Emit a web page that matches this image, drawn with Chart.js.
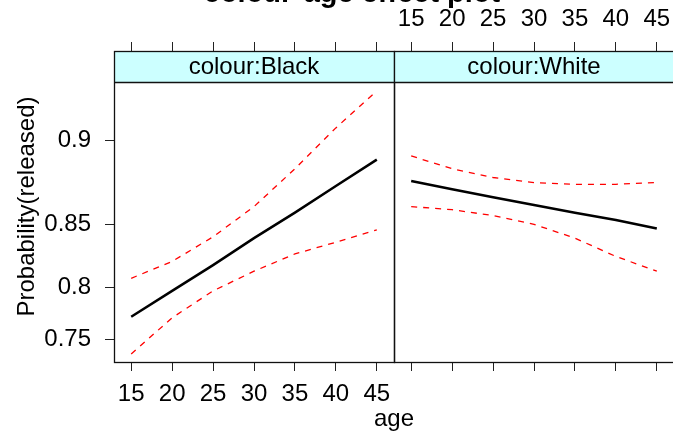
<!DOCTYPE html>
<html>
<head>
<meta charset="utf-8">
<script src="https://cdn.jsdelivr.net/npm/chart.js@4.4.1/dist/chart.umd.min.js"></script>
<style>
  html, body { margin: 0; padding: 0; background: #fff; }
  #wrap { position: relative; width: 673px; height: 433px; overflow: hidden; background: #fff; }
  #wrap canvas { position: absolute; top: 0; left: 0; }
</style>
</head>
<body>
<div id="wrap">
  <canvas id="black" width="673" height="433" style="width:673px;height:433px"></canvas>
  <canvas id="white" width="700" height="433" style="width:700px;height:433px"></canvas>
</div>
<script>
// effect of age, by colour (probability of release)
const ages = [15, 20, 25, 30, 35, 40, 45];

const blackFit   = [0.773, 0.797, 0.819, 0.840, 0.858, 0.875, 0.890];
const blackLower = [0.735, 0.772, 0.797, 0.814, 0.828, 0.837, 0.846];
const blackUpper = [0.808, 0.822, 0.841, 0.862, 0.885, 0.906, 0.922];

const whiteFit   = [0.878, 0.873, 0.868, 0.863, 0.858, 0.853, 0.847];
const whiteLower = [0.862, 0.860, 0.856, 0.850, 0.840, 0.826, 0.814];
const whiteUpper = [0.892, 0.885, 0.880, 0.877, 0.876, 0.876, 0.877];

const ageTicks = [15, 20, 25, 30, 35, 40, 45];
const probTicks = [0.75, 0.8, 0.85, 0.9];
const probTickLabels = ["0.75", "0.8", "0.85", "0.9"];

// axis limits (upper limit reaches to the top of the strip)
const ageRange = [12.9, 47.1];
const probRange = [0.7263, 0.9364];

const FONT = "'Liberation Sans', Arial, Helvetica, sans-serif";
const STRIP_H = 31;

Chart.defaults.font.family = FONT;
Chart.defaults.font.size = 24;
Chart.defaults.color = "#000";
Chart.defaults.animation = false;

const logit = p => Math.log(p / (1 - p));

const toPoints = values => ages.map((a, i) => ({ x: a, y: logit(values[i]) }));

// strip, frame and page texts
const panelPlugin = {
    id: "panel",
    beforeDatasetsDraw(chart, args, opts) {
        const { ctx, chartArea: a } = chart;
        ctx.save();
        ctx.fillStyle = "#CCFFFF";
        ctx.fillRect(a.left, a.top, a.right - a.left, STRIP_H);
        ctx.fillStyle = "#000";
        ctx.font = "24px " + FONT;
        ctx.textAlign = "center";
        ctx.textBaseline = "middle";
        ctx.fillText(opts.strip, (a.left + a.right) / 2, a.top + STRIP_H / 2 + 1);
        ctx.restore();
    },
    afterDraw(chart, args, opts) {
        const { ctx, chartArea: a } = chart;
        ctx.save();
        ctx.strokeStyle = "#111";
        ctx.lineWidth = 1.3;
        ctx.strokeRect(a.left + 0.5, a.top + 0.5, a.right - a.left, a.bottom - a.top);
        ctx.beginPath();
        ctx.moveTo(a.left, a.top + STRIP_H + 0.5);
        ctx.lineTo(a.right, a.top + STRIP_H + 0.5);
        ctx.stroke();
        if (opts.pageText) {
            ctx.fillStyle = "#000";
            ctx.textAlign = "center";
            ctx.textBaseline = "alphabetic";
            ctx.font = "bold 29px " + FONT;
            ctx.fillText("colour*age effect plot", 352, 2);
            ctx.font = "24px " + FONT;
            ctx.fillText("age", a.right, 426);
        }
        ctx.restore();
    }
};

function xAxis(position, showLabels, height) {
    return {
        type: "linear",
        position,
        min: ageRange[0],
        max: ageRange[1],
        afterBuildTicks: s => { s.ticks = ageTicks.map(v => ({ value: v })); },
        afterFit: s => { s.height = height; },
        grid: { drawOnChartArea: false, drawTicks: true, tickLength: 9, color: "#222" },
        border: { display: false },
        ticks: {
            display: showLabels,
            padding: position === "top" ? 8 : 9,
            color: "#000",
            maxRotation: 0,
            autoSkip: false,
            callback: v => String(v)
        }
    };
}

function createPanel(canvas, cfg) {

    const datasets = [
        { data: toPoints(cfg.fit), borderColor: "#000", borderWidth: 2.5 },
        { data: toPoints(cfg.lower), borderColor: "#FF0000", borderWidth: 1.3, borderDash: [6, 6] },
        { data: toPoints(cfg.upper), borderColor: "#FF0000", borderWidth: 1.3, borderDash: [6, 6] }
    ].map(d => ({ ...d, pointRadius: 0, tension: 0, fill: false }));

    return new Chart(canvas, {
        type: "line",
        data: { datasets },
        plugins: [panelPlugin],
        options: {
            responsive: false,
            layout: { padding: cfg.padding },
            plugins: {
                legend: { display: false },
                tooltip: { enabled: false },
                panel: { strip: cfg.strip, pageText: cfg.pageText }
            },
            scales: {
                x: xAxis("bottom", cfg.bottomLabels, 71),
                xTop: xAxis("top", cfg.topLabels, 51),
                y: {
                    type: "linear",
                    position: "left",
                    display: cfg.showY,
                    min: logit(probRange[0]),
                    max: logit(probRange[1]),
                    afterBuildTicks: s => { s.ticks = probTicks.map(p => ({ value: logit(p) })); },
                    afterFit: s => { s.width = cfg.showY ? 114 : 0; },
                    grid: { drawOnChartArea: false, drawTicks: true, tickLength: 9, color: "#222" },
                    border: { display: false },
                    ticks: { padding: 14, color: "#000", callback: (v, i) => probTickLabels[i] },
                    title: {
                        display: true,
                        text: "Probability(released)",
                        color: "#000",
                        font: { size: 24 },
                        padding: { top: 13, bottom: 0 }
                    }
                }
            }
        }
    });
}

createPanel(document.getElementById("black"), {
    strip: "colour:Black",
    fit: blackFit, lower: blackLower, upper: blackUpper,
    showY: true, topLabels: false, bottomLabels: true, pageText: true,
    padding: { left: 0, right: 279, top: 0, bottom: 0 }
});

createPanel(document.getElementById("white"), {
    strip: "colour:White",
    fit: whiteFit, lower: whiteLower, upper: whiteUpper,
    showY: false, topLabels: true, bottomLabels: false, pageText: false,
    padding: { left: 394, right: 26, top: 0, bottom: 0 }
});
</script>
</body>
</html>
